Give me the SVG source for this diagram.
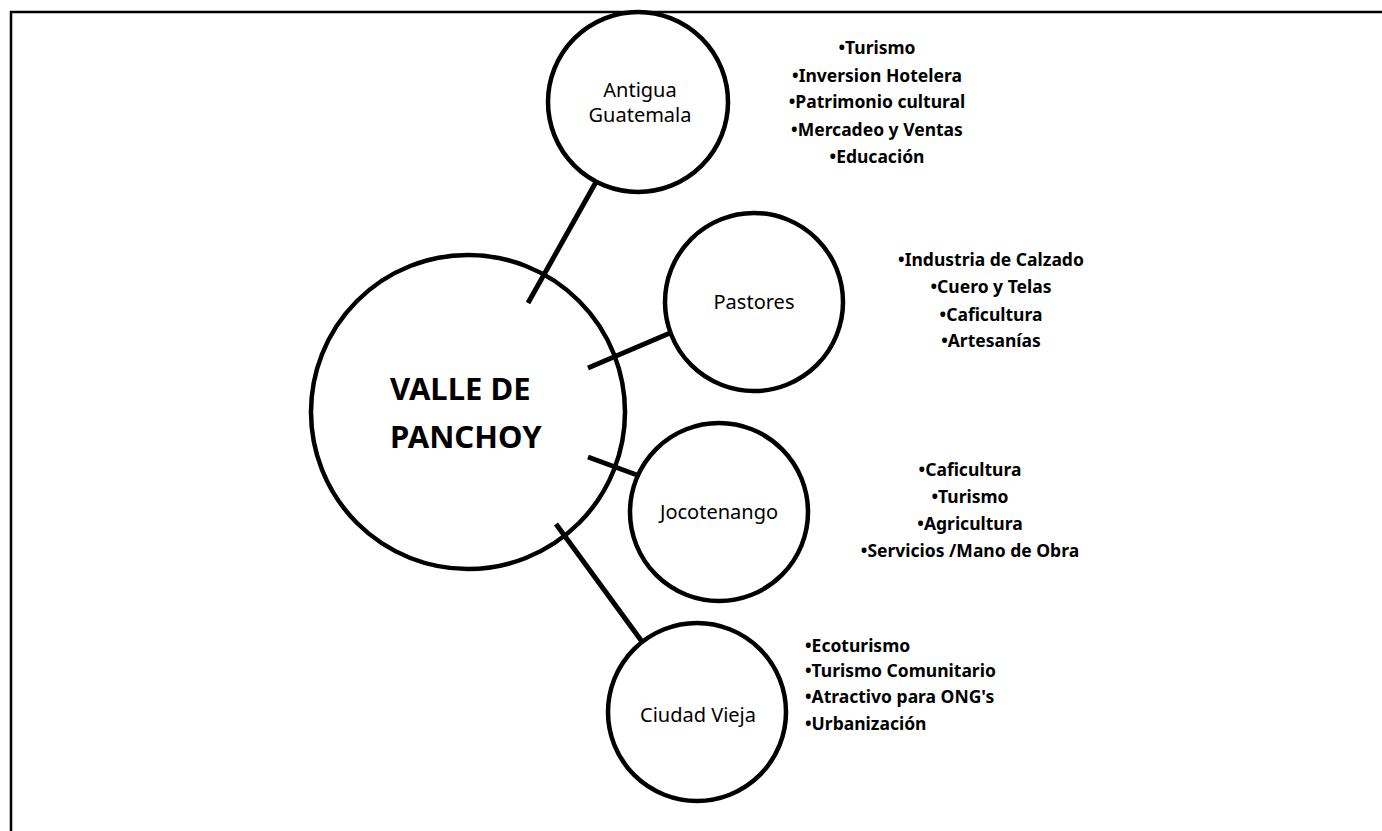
<svg xmlns="http://www.w3.org/2000/svg" width="1382" height="831" viewBox="0 0 1382 831">
<style>
.node{fill:#fff;stroke:#000;stroke-width:4.5}
.conn{stroke:#000;stroke-width:5;fill:none}
.lbl{font-family:"Noto Sans","Open Sans",sans-serif;font-size:20px;fill:#000;text-anchor:middle}
.main{font-family:"Noto Sans","Open Sans",sans-serif;font-size:31px;font-weight:bold;fill:#000}
.list{font-family:"Noto Sans","Open Sans",sans-serif;font-size:17.5px;font-weight:bold;fill:#000}
.mid{text-anchor:middle}
</style>
<rect width="1382" height="831" fill="#fff"/>
<path d="M11,831 V12 H1382" fill="none" stroke="#000" stroke-width="2.5"/>
<g id="main">
<circle class="node" cx="468" cy="412" r="157"/>
<text class="main" x="390" y="400">VALLE DE</text>
<text class="main" x="390" y="448">PANCHOY</text>
</g>
<g id="antigua">
<circle class="node" cx="638" cy="102" r="90"/>
<text class="lbl" x="640" y="97">Antigua</text>
<text class="lbl" x="640" y="122">Guatemala</text>
</g>
<g id="pastores">
<circle class="node" cx="754" cy="302" r="89"/>
<text class="lbl" x="754" y="309">Pastores</text>
</g>
<g id="jocotenango">
<circle class="node" cx="719" cy="512" r="89"/>
<text class="lbl" x="719" y="519">Jocotenango</text>
</g>
<g id="ciudadvieja">
<circle class="node" cx="697" cy="712" r="89"/>
<text class="lbl" x="698" y="722">Ciudad Vieja</text>
</g>
<g id="connectors">
<line class="conn" x1="528" y1="303" x2="596" y2="182"/>
<line class="conn" x1="588" y1="368" x2="670" y2="333"/>
<line class="conn" x1="588" y1="457" x2="637" y2="475"/>
<line class="conn" x1="556" y1="524" x2="643" y2="643"/>
</g>
<g id="list-antigua" class="list mid">
<text x="877" y="54">•Turismo</text>
<text x="877" y="82">•Inversion Hotelera</text>
<text x="877" y="108">•Patrimonio cultural</text>
<text x="877" y="136">•Mercadeo y Ventas</text>
<text x="877" y="163">•Educación</text>
</g>
<g id="list-pastores" class="list mid">
<text x="991" y="266">•Industria de Calzado</text>
<text x="991" y="293">•Cuero y Telas</text>
<text x="991" y="321">•Caficultura</text>
<text x="991" y="347">•Artesanías</text>
</g>
<g id="list-jocotenango" class="list mid">
<text x="970" y="476">•Caficultura</text>
<text x="970" y="503">•Turismo</text>
<text x="970" y="530">•Agricultura</text>
<text x="970" y="557">•Servicios /Mano de Obra</text>
</g>
<g id="list-ciudadvieja" class="list">
<text x="805" y="652">•Ecoturismo</text>
<text x="805" y="677">•Turismo Comunitario</text>
<text x="805" y="703">•Atractivo para ONG's</text>
<text x="805" y="730">•Urbanización</text>
</g>
</svg>
